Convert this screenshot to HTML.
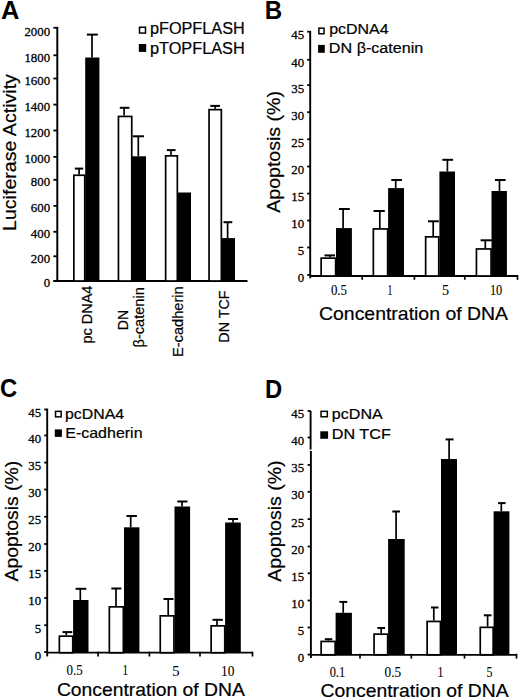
<!DOCTYPE html>
<html><head><meta charset="utf-8"><style>
html,body{margin:0;padding:0;background:#fff;}
body{width:520px;height:699px;overflow:hidden;}
svg{display:block;}
</style></head><body>
<svg width="520" height="699" viewBox="0 0 520 699">
<g stroke="#000" fill="#000" stroke-linecap="butt">
<text x="1.07" y="18.60" font-family='"Liberation Sans", sans-serif' font-weight="bold" font-size="25.00" textLength="18.41" lengthAdjust="spacingAndGlyphs" stroke="none">A</text>
<line x1="57.30" y1="26.90" x2="57.30" y2="282.00" stroke-width="2.00"/>
<line x1="53.40" y1="280.90" x2="57.30" y2="280.90" stroke-width="1.80"/>
<line x1="53.40" y1="256.30" x2="57.30" y2="256.30" stroke-width="1.80"/>
<line x1="53.40" y1="231.80" x2="57.30" y2="231.80" stroke-width="1.80"/>
<line x1="53.40" y1="205.90" x2="57.30" y2="205.90" stroke-width="1.80"/>
<line x1="53.40" y1="179.80" x2="57.30" y2="179.80" stroke-width="1.80"/>
<line x1="53.40" y1="156.90" x2="57.30" y2="156.90" stroke-width="1.80"/>
<line x1="53.40" y1="130.50" x2="57.30" y2="130.50" stroke-width="1.80"/>
<line x1="53.40" y1="104.60" x2="57.30" y2="104.60" stroke-width="1.80"/>
<line x1="53.40" y1="78.50" x2="57.30" y2="78.50" stroke-width="1.80"/>
<line x1="53.40" y1="55.30" x2="57.30" y2="55.30" stroke-width="1.80"/>
<line x1="53.40" y1="27.80" x2="57.30" y2="27.80" stroke-width="1.80"/>
<text x="43.68" y="287.40" font-family='"Liberation Serif", serif' font-weight="normal" font-size="13.50" textLength="6.41" lengthAdjust="spacingAndGlyphs" stroke="#000" stroke-width="0.30">0</text>
<text x="30.85" y="262.80" font-family='"Liberation Serif", serif' font-weight="normal" font-size="13.50" textLength="19.24" lengthAdjust="spacingAndGlyphs" stroke="#000" stroke-width="0.30">200</text>
<text x="30.85" y="238.30" font-family='"Liberation Serif", serif' font-weight="normal" font-size="13.50" textLength="19.24" lengthAdjust="spacingAndGlyphs" stroke="#000" stroke-width="0.30">400</text>
<text x="30.85" y="212.40" font-family='"Liberation Serif", serif' font-weight="normal" font-size="13.50" textLength="19.24" lengthAdjust="spacingAndGlyphs" stroke="#000" stroke-width="0.30">600</text>
<text x="30.85" y="186.30" font-family='"Liberation Serif", serif' font-weight="normal" font-size="13.50" textLength="19.24" lengthAdjust="spacingAndGlyphs" stroke="#000" stroke-width="0.30">800</text>
<text x="24.44" y="163.40" font-family='"Liberation Serif", serif' font-weight="normal" font-size="13.50" textLength="25.65" lengthAdjust="spacingAndGlyphs" stroke="#000" stroke-width="0.30">1000</text>
<text x="24.44" y="137.00" font-family='"Liberation Serif", serif' font-weight="normal" font-size="13.50" textLength="25.65" lengthAdjust="spacingAndGlyphs" stroke="#000" stroke-width="0.30">1200</text>
<text x="24.44" y="111.10" font-family='"Liberation Serif", serif' font-weight="normal" font-size="13.50" textLength="25.65" lengthAdjust="spacingAndGlyphs" stroke="#000" stroke-width="0.30">1400</text>
<text x="24.44" y="85.00" font-family='"Liberation Serif", serif' font-weight="normal" font-size="13.50" textLength="25.65" lengthAdjust="spacingAndGlyphs" stroke="#000" stroke-width="0.30">1600</text>
<text x="24.44" y="61.80" font-family='"Liberation Serif", serif' font-weight="normal" font-size="13.50" textLength="25.65" lengthAdjust="spacingAndGlyphs" stroke="#000" stroke-width="0.30">1800</text>
<text x="24.44" y="36.10" font-family='"Liberation Serif", serif' font-weight="normal" font-size="13.50" textLength="25.65" lengthAdjust="spacingAndGlyphs" stroke="#000" stroke-width="0.30">2000</text>
<line x1="53.40" y1="281.00" x2="247.50" y2="281.00" stroke-width="2.00"/>
<rect x="73.85" y="175.25" width="10.90" height="105.75" fill="#fff" stroke-width="1.70"/>
<rect x="85.20" y="57.50" width="14.20" height="223.50" fill="#000" stroke="none"/>
<line x1="79.10" y1="174.40" x2="79.10" y2="168.60" stroke-width="1.70"/>
<line x1="74.80" y1="168.60" x2="83.20" y2="168.60" stroke-width="2.00"/>
<line x1="92.00" y1="57.50" x2="92.00" y2="34.60" stroke-width="1.70"/>
<line x1="86.90" y1="34.60" x2="97.80" y2="34.60" stroke-width="2.00"/>
<rect x="118.45" y="116.45" width="13.30" height="164.55" fill="#fff" stroke-width="1.70"/>
<rect x="132.00" y="156.30" width="14.00" height="124.70" fill="#000" stroke="none"/>
<line x1="124.10" y1="115.60" x2="124.10" y2="107.80" stroke-width="1.70"/>
<line x1="119.80" y1="107.80" x2="129.40" y2="107.80" stroke-width="2.00"/>
<line x1="138.30" y1="156.30" x2="138.30" y2="136.30" stroke-width="1.70"/>
<line x1="132.80" y1="136.30" x2="144.00" y2="136.30" stroke-width="2.00"/>
<rect x="165.65" y="155.85" width="11.70" height="125.15" fill="#fff" stroke-width="1.70"/>
<rect x="177.60" y="192.50" width="13.40" height="88.50" fill="#000" stroke="none"/>
<line x1="171.00" y1="155.00" x2="171.00" y2="150.10" stroke-width="1.70"/>
<line x1="166.90" y1="150.10" x2="175.60" y2="150.10" stroke-width="2.00"/>
<rect x="209.05" y="109.65" width="12.30" height="171.35" fill="#fff" stroke-width="1.70"/>
<rect x="221.30" y="238.10" width="13.70" height="42.90" fill="#000" stroke="none"/>
<line x1="215.20" y1="108.80" x2="215.20" y2="105.90" stroke-width="1.70"/>
<line x1="210.30" y1="105.90" x2="220.00" y2="105.90" stroke-width="2.00"/>
<line x1="227.60" y1="238.10" x2="227.60" y2="222.20" stroke-width="1.70"/>
<line x1="223.50" y1="222.20" x2="232.30" y2="222.20" stroke-width="2.00"/>
<rect x="139.5" y="27.25" width="6" height="5.8" fill="#fff" stroke-width="1.5"/>
<rect x="138.80" y="44.00" width="7.40" height="7.90" fill="#000" stroke="none"/>
<text x="149.95" y="33.90" font-family='"Liberation Sans", sans-serif' font-weight="normal" font-size="16.00" textLength="94.77" lengthAdjust="spacingAndGlyphs" stroke="#000" stroke-width="0.20">pFOPFLASH</text>
<text x="149.95" y="53.90" font-family='"Liberation Sans", sans-serif' font-weight="normal" font-size="16.00" textLength="94.77" lengthAdjust="spacingAndGlyphs" stroke="#000" stroke-width="0.20">pTOPFLASH</text>
<text transform="translate(15.70 231.00) rotate(-90)" font-family='"Liberation Sans", sans-serif' font-weight="normal" font-size="18.90" textLength="156.94" lengthAdjust="spacingAndGlyphs" stroke="#000" stroke-width="0.20">Luciferase Activity</text>
<text transform="translate(92.00 343.53) rotate(-90)" font-family='"Liberation Sans", sans-serif' font-weight="normal" font-size="14.00" textLength="57.96" lengthAdjust="spacingAndGlyphs" stroke="#000" stroke-width="0.20">pc DNA4</text>
<text transform="translate(127.60 330.15) rotate(-90)" font-family='"Liberation Sans", sans-serif' font-weight="normal" font-size="14.00" textLength="20.30" lengthAdjust="spacingAndGlyphs" stroke="#000" stroke-width="0.20">DN</text>
<text transform="translate(144.40 347.51) rotate(-90)" font-family='"Liberation Sans", sans-serif' font-weight="normal" font-size="14.00" textLength="60.26" lengthAdjust="spacingAndGlyphs" stroke="#000" stroke-width="0.20">β-catenin</text>
<text transform="translate(183.20 357.00) rotate(-90)" font-family='"Liberation Sans", sans-serif' font-weight="normal" font-size="14.00" textLength="70.65" lengthAdjust="spacingAndGlyphs" stroke="#000" stroke-width="0.20">E-cadherin</text>
<text transform="translate(228.80 342.67) rotate(-90)" font-family='"Liberation Sans", sans-serif' font-weight="normal" font-size="14.00" textLength="52.24" lengthAdjust="spacingAndGlyphs" stroke="#000" stroke-width="0.20">DN TCF</text>
<text x="264.69" y="18.70" font-family='"Liberation Sans", sans-serif' font-weight="bold" font-size="25.60" textLength="17.41" lengthAdjust="spacingAndGlyphs" stroke="none">B</text>
<line x1="310.20" y1="31.00" x2="310.20" y2="278.30" stroke-width="1.90"/>
<line x1="307.20" y1="274.90" x2="310.20" y2="274.90" stroke-width="1.80"/>
<line x1="307.20" y1="247.50" x2="310.20" y2="247.50" stroke-width="1.80"/>
<line x1="307.20" y1="220.50" x2="310.20" y2="220.50" stroke-width="1.80"/>
<line x1="307.20" y1="193.60" x2="310.20" y2="193.60" stroke-width="1.80"/>
<line x1="307.20" y1="166.50" x2="310.20" y2="166.50" stroke-width="1.80"/>
<line x1="307.20" y1="139.30" x2="310.20" y2="139.30" stroke-width="1.80"/>
<line x1="307.20" y1="112.20" x2="310.20" y2="112.20" stroke-width="1.80"/>
<line x1="307.20" y1="85.10" x2="310.20" y2="85.10" stroke-width="1.80"/>
<line x1="307.20" y1="59.80" x2="310.20" y2="59.80" stroke-width="1.80"/>
<line x1="307.20" y1="31.70" x2="310.20" y2="31.70" stroke-width="1.80"/>
<text x="297.68" y="282.30" font-family='"Liberation Serif", serif' font-weight="normal" font-size="13.50" textLength="6.41" lengthAdjust="spacingAndGlyphs" stroke="#000" stroke-width="0.30">0</text>
<text x="297.69" y="254.90" font-family='"Liberation Serif", serif' font-weight="normal" font-size="13.50" textLength="6.41" lengthAdjust="spacingAndGlyphs" stroke="#000" stroke-width="0.30">5</text>
<text x="291.26" y="227.90" font-family='"Liberation Serif", serif' font-weight="normal" font-size="13.50" textLength="12.82" lengthAdjust="spacingAndGlyphs" stroke="#000" stroke-width="0.30">10</text>
<text x="291.28" y="201.00" font-family='"Liberation Serif", serif' font-weight="normal" font-size="13.50" textLength="12.82" lengthAdjust="spacingAndGlyphs" stroke="#000" stroke-width="0.30">15</text>
<text x="291.26" y="173.90" font-family='"Liberation Serif", serif' font-weight="normal" font-size="13.50" textLength="12.82" lengthAdjust="spacingAndGlyphs" stroke="#000" stroke-width="0.30">20</text>
<text x="291.28" y="146.70" font-family='"Liberation Serif", serif' font-weight="normal" font-size="13.50" textLength="12.82" lengthAdjust="spacingAndGlyphs" stroke="#000" stroke-width="0.30">25</text>
<text x="291.26" y="119.60" font-family='"Liberation Serif", serif' font-weight="normal" font-size="13.50" textLength="12.83" lengthAdjust="spacingAndGlyphs" stroke="#000" stroke-width="0.30">30</text>
<text x="291.28" y="92.50" font-family='"Liberation Serif", serif' font-weight="normal" font-size="13.50" textLength="12.82" lengthAdjust="spacingAndGlyphs" stroke="#000" stroke-width="0.30">35</text>
<text x="291.26" y="67.20" font-family='"Liberation Serif", serif' font-weight="normal" font-size="13.50" textLength="12.82" lengthAdjust="spacingAndGlyphs" stroke="#000" stroke-width="0.30">40</text>
<text x="291.28" y="39.10" font-family='"Liberation Serif", serif' font-weight="normal" font-size="13.50" textLength="12.82" lengthAdjust="spacingAndGlyphs" stroke="#000" stroke-width="0.30">45</text>
<line x1="310.20" y1="276.00" x2="517.50" y2="276.00" stroke-width="1.80"/>
<line x1="362.20" y1="275.00" x2="362.20" y2="279.80" stroke-width="1.70"/>
<line x1="414.40" y1="275.00" x2="414.40" y2="279.80" stroke-width="1.70"/>
<line x1="464.80" y1="275.00" x2="464.80" y2="279.80" stroke-width="1.70"/>
<line x1="517.50" y1="275.00" x2="517.50" y2="279.80" stroke-width="1.70"/>
<rect x="321.15" y="258.15" width="14.50" height="17.85" fill="#fff" stroke-width="1.70"/>
<rect x="336.00" y="228.10" width="15.90" height="47.90" fill="#000" stroke="none"/>
<line x1="330.00" y1="257.30" x2="330.00" y2="255.40" stroke-width="1.70"/>
<line x1="324.40" y1="255.40" x2="335.00" y2="255.40" stroke-width="2.00"/>
<line x1="343.10" y1="228.10" x2="343.10" y2="209.00" stroke-width="1.70"/>
<line x1="339.00" y1="209.00" x2="349.80" y2="209.00" stroke-width="2.00"/>
<rect x="373.35" y="228.95" width="14.30" height="47.05" fill="#fff" stroke-width="1.70"/>
<rect x="388.10" y="188.10" width="15.90" height="87.90" fill="#000" stroke="none"/>
<line x1="379.80" y1="228.10" x2="379.80" y2="211.00" stroke-width="1.70"/>
<line x1="373.50" y1="211.00" x2="384.80" y2="211.00" stroke-width="2.00"/>
<line x1="395.70" y1="188.10" x2="395.70" y2="180.00" stroke-width="1.70"/>
<line x1="391.30" y1="180.00" x2="401.90" y2="180.00" stroke-width="2.00"/>
<rect x="425.65" y="236.85" width="13.10" height="39.15" fill="#fff" stroke-width="1.70"/>
<rect x="439.40" y="171.50" width="15.60" height="104.50" fill="#000" stroke="none"/>
<line x1="433.20" y1="236.00" x2="433.20" y2="221.30" stroke-width="1.70"/>
<line x1="428.00" y1="221.30" x2="438.80" y2="221.30" stroke-width="2.00"/>
<line x1="447.40" y1="171.50" x2="447.40" y2="159.80" stroke-width="1.70"/>
<line x1="442.30" y1="159.80" x2="453.10" y2="159.80" stroke-width="2.00"/>
<rect x="476.45" y="248.95" width="14.60" height="27.05" fill="#fff" stroke-width="1.70"/>
<rect x="491.50" y="191.00" width="15.40" height="85.00" fill="#000" stroke="none"/>
<line x1="485.30" y1="248.10" x2="485.30" y2="240.30" stroke-width="1.70"/>
<line x1="480.60" y1="240.30" x2="491.90" y2="240.30" stroke-width="2.00"/>
<line x1="499.50" y1="191.00" x2="499.50" y2="180.00" stroke-width="1.70"/>
<line x1="495.00" y1="180.00" x2="505.60" y2="180.00" stroke-width="2.00"/>
<rect x="318.85" y="28.15" width="5.20" height="5.60" fill="#fff" stroke-width="1.5"/>
<rect x="318.10" y="44.90" width="6.70" height="7.90" fill="#000" stroke="none"/>
<text x="329.17" y="33.60" font-family='"Liberation Sans", sans-serif' font-weight="normal" font-size="14.00" textLength="59.40" lengthAdjust="spacingAndGlyphs" stroke="#000" stroke-width="0.20">pcDNA4</text>
<text x="328.88" y="52.90" font-family='"Liberation Sans", sans-serif' font-weight="normal" font-size="14.00" textLength="94.37" lengthAdjust="spacingAndGlyphs" stroke="#000" stroke-width="0.20">DN β-catenin</text>
<text transform="translate(280.10 212.74) rotate(-90)" font-family='"Liberation Sans", sans-serif' font-weight="normal" font-size="18.60" textLength="121.65" lengthAdjust="spacingAndGlyphs" stroke="#000" stroke-width="0.20">Apoptosis (%)</text>
<text x="330.91" y="294.80" font-family='"Liberation Serif", serif' font-weight="normal" font-size="14.00" textLength="16.09" lengthAdjust="spacingAndGlyphs" stroke="#000" stroke-width="0.10">0.5</text>
<text x="387.43" y="294.80" font-family='"Liberation Serif", serif' font-weight="normal" font-size="14.00" textLength="4.97" lengthAdjust="spacingAndGlyphs" stroke="#000" stroke-width="0.10">1</text>
<text x="442.08" y="294.80" font-family='"Liberation Serif", serif' font-weight="normal" font-size="14.00" textLength="7.07" lengthAdjust="spacingAndGlyphs" stroke="#000" stroke-width="0.10">5</text>
<text x="489.91" y="294.80" font-family='"Liberation Serif", serif' font-weight="normal" font-size="14.00" textLength="12.36" lengthAdjust="spacingAndGlyphs" stroke="#000" stroke-width="0.10">10</text>
<text x="319.01" y="319.60" font-family='"Liberation Sans", sans-serif' font-weight="normal" font-size="17.90" textLength="189.02" lengthAdjust="spacingAndGlyphs" stroke="#000" stroke-width="0.20">Concentration of DNA</text>
<text x="0.02" y="397.20" font-family='"Liberation Sans", sans-serif' font-weight="bold" font-size="25.80" textLength="17.23" lengthAdjust="spacingAndGlyphs" stroke="none">C</text>
<line x1="47.20" y1="408.60" x2="47.20" y2="656.40" stroke-width="1.90"/>
<line x1="44.20" y1="652.10" x2="47.20" y2="652.10" stroke-width="1.80"/>
<line x1="44.20" y1="625.20" x2="47.20" y2="625.20" stroke-width="1.80"/>
<line x1="44.20" y1="598.00" x2="47.20" y2="598.00" stroke-width="1.80"/>
<line x1="44.20" y1="570.90" x2="47.20" y2="570.90" stroke-width="1.80"/>
<line x1="44.20" y1="544.00" x2="47.20" y2="544.00" stroke-width="1.80"/>
<line x1="44.20" y1="516.80" x2="47.20" y2="516.80" stroke-width="1.80"/>
<line x1="44.20" y1="489.50" x2="47.20" y2="489.50" stroke-width="1.80"/>
<line x1="44.20" y1="462.60" x2="47.20" y2="462.60" stroke-width="1.80"/>
<line x1="44.20" y1="435.50" x2="47.20" y2="435.50" stroke-width="1.80"/>
<line x1="44.20" y1="409.50" x2="47.20" y2="409.50" stroke-width="1.80"/>
<text x="34.68" y="659.50" font-family='"Liberation Serif", serif' font-weight="normal" font-size="13.50" textLength="6.41" lengthAdjust="spacingAndGlyphs" stroke="#000" stroke-width="0.30">0</text>
<text x="34.69" y="632.60" font-family='"Liberation Serif", serif' font-weight="normal" font-size="13.50" textLength="6.41" lengthAdjust="spacingAndGlyphs" stroke="#000" stroke-width="0.30">5</text>
<text x="28.26" y="605.40" font-family='"Liberation Serif", serif' font-weight="normal" font-size="13.50" textLength="12.82" lengthAdjust="spacingAndGlyphs" stroke="#000" stroke-width="0.30">10</text>
<text x="28.28" y="578.30" font-family='"Liberation Serif", serif' font-weight="normal" font-size="13.50" textLength="12.82" lengthAdjust="spacingAndGlyphs" stroke="#000" stroke-width="0.30">15</text>
<text x="28.26" y="551.40" font-family='"Liberation Serif", serif' font-weight="normal" font-size="13.50" textLength="12.82" lengthAdjust="spacingAndGlyphs" stroke="#000" stroke-width="0.30">20</text>
<text x="28.28" y="524.20" font-family='"Liberation Serif", serif' font-weight="normal" font-size="13.50" textLength="12.82" lengthAdjust="spacingAndGlyphs" stroke="#000" stroke-width="0.30">25</text>
<text x="28.26" y="496.90" font-family='"Liberation Serif", serif' font-weight="normal" font-size="13.50" textLength="12.82" lengthAdjust="spacingAndGlyphs" stroke="#000" stroke-width="0.30">30</text>
<text x="28.28" y="470.00" font-family='"Liberation Serif", serif' font-weight="normal" font-size="13.50" textLength="12.82" lengthAdjust="spacingAndGlyphs" stroke="#000" stroke-width="0.30">35</text>
<text x="28.26" y="442.90" font-family='"Liberation Serif", serif' font-weight="normal" font-size="13.50" textLength="12.82" lengthAdjust="spacingAndGlyphs" stroke="#000" stroke-width="0.30">40</text>
<text x="28.28" y="416.90" font-family='"Liberation Serif", serif' font-weight="normal" font-size="13.50" textLength="12.82" lengthAdjust="spacingAndGlyphs" stroke="#000" stroke-width="0.30">45</text>
<line x1="47.20" y1="652.70" x2="252.50" y2="652.70" stroke-width="1.80"/>
<line x1="98.10" y1="651.70" x2="98.10" y2="656.50" stroke-width="1.70"/>
<line x1="149.40" y1="651.70" x2="149.40" y2="656.50" stroke-width="1.70"/>
<line x1="200.00" y1="651.70" x2="200.00" y2="656.50" stroke-width="1.70"/>
<line x1="252.50" y1="651.70" x2="252.50" y2="656.50" stroke-width="1.70"/>
<rect x="59.35" y="636.15" width="13.40" height="16.55" fill="#fff" stroke-width="1.70"/>
<rect x="73.10" y="600.00" width="15.40" height="52.70" fill="#000" stroke="none"/>
<line x1="66.30" y1="635.30" x2="66.30" y2="632.10" stroke-width="1.70"/>
<line x1="62.50" y1="632.10" x2="72.30" y2="632.10" stroke-width="2.00"/>
<line x1="80.30" y1="600.00" x2="80.30" y2="588.80" stroke-width="1.70"/>
<line x1="75.60" y1="588.80" x2="86.30" y2="588.80" stroke-width="2.00"/>
<rect x="109.35" y="606.85" width="14.00" height="45.85" fill="#fff" stroke-width="1.70"/>
<rect x="124.00" y="527.30" width="15.40" height="125.40" fill="#000" stroke="none"/>
<line x1="116.00" y1="606.00" x2="116.00" y2="588.50" stroke-width="1.70"/>
<line x1="111.30" y1="588.50" x2="121.30" y2="588.50" stroke-width="2.00"/>
<line x1="130.70" y1="527.30" x2="130.70" y2="516.00" stroke-width="1.70"/>
<line x1="126.50" y1="516.00" x2="136.90" y2="516.00" stroke-width="2.00"/>
<rect x="160.25" y="615.85" width="13.70" height="36.85" fill="#fff" stroke-width="1.70"/>
<rect x="174.50" y="506.50" width="15.60" height="146.20" fill="#000" stroke="none"/>
<line x1="168.20" y1="615.00" x2="168.20" y2="599.00" stroke-width="1.70"/>
<line x1="163.50" y1="599.00" x2="173.50" y2="599.00" stroke-width="2.00"/>
<line x1="182.00" y1="506.50" x2="182.00" y2="501.50" stroke-width="1.70"/>
<line x1="177.30" y1="501.50" x2="187.50" y2="501.50" stroke-width="2.00"/>
<rect x="211.15" y="625.85" width="13.60" height="26.85" fill="#fff" stroke-width="1.70"/>
<rect x="225.10" y="522.50" width="15.70" height="130.20" fill="#000" stroke="none"/>
<line x1="217.00" y1="625.00" x2="217.00" y2="619.80" stroke-width="1.70"/>
<line x1="212.50" y1="619.80" x2="222.80" y2="619.80" stroke-width="2.00"/>
<line x1="233.00" y1="522.50" x2="233.00" y2="519.00" stroke-width="1.70"/>
<line x1="228.10" y1="519.00" x2="238.10" y2="519.00" stroke-width="2.00"/>
<rect x="55.55" y="411.35" width="5.60" height="5.50" fill="#fff" stroke-width="1.5"/>
<rect x="54.80" y="429.40" width="7.10" height="7.50" fill="#000" stroke="none"/>
<text x="64.98" y="419.00" font-family='"Liberation Sans", sans-serif' font-weight="normal" font-size="14.00" textLength="59.09" lengthAdjust="spacingAndGlyphs" stroke="#000" stroke-width="0.20">pcDNA4</text>
<text x="65.29" y="437.80" font-family='"Liberation Sans", sans-serif' font-weight="normal" font-size="14.20" textLength="77.25" lengthAdjust="spacingAndGlyphs" stroke="#000" stroke-width="0.20">E-cadherin</text>
<text transform="translate(18.30 581.54) rotate(-90)" font-family='"Liberation Sans", sans-serif' font-weight="normal" font-size="18.60" textLength="120.74" lengthAdjust="spacingAndGlyphs" stroke="#000" stroke-width="0.20">Apoptosis (%)</text>
<text x="66.41" y="674.60" font-family='"Liberation Serif", serif' font-weight="normal" font-size="14.00" textLength="16.20" lengthAdjust="spacingAndGlyphs" stroke="#000" stroke-width="0.10">0.5</text>
<text x="122.53" y="674.60" font-family='"Liberation Serif", serif' font-weight="normal" font-size="14.00" textLength="5.54" lengthAdjust="spacingAndGlyphs" stroke="#000" stroke-width="0.10">1</text>
<text x="172.25" y="675.60" font-family='"Liberation Serif", serif' font-weight="normal" font-size="14.00" textLength="7.32" lengthAdjust="spacingAndGlyphs" stroke="#000" stroke-width="0.10">5</text>
<text x="221.12" y="675.80" font-family='"Liberation Serif", serif' font-weight="normal" font-size="14.00" textLength="13.39" lengthAdjust="spacingAndGlyphs" stroke="#000" stroke-width="0.10">10</text>
<text x="56.92" y="696.30" font-family='"Liberation Sans", sans-serif' font-weight="normal" font-size="17.90" textLength="187.92" lengthAdjust="spacingAndGlyphs" stroke="#000" stroke-width="0.20">Concentration of DNA</text>
<text x="264.91" y="397.60" font-family='"Liberation Sans", sans-serif' font-weight="bold" font-size="25.20" textLength="17.19" lengthAdjust="spacingAndGlyphs" stroke="none">D</text>
<line x1="310.60" y1="410.80" x2="310.60" y2="449.50" stroke-width="1.90"/>
<line x1="310.90" y1="450.90" x2="310.90" y2="658.00" stroke-width="1.90"/>
<line x1="307.60" y1="654.60" x2="310.60" y2="654.60" stroke-width="1.80"/>
<line x1="307.60" y1="627.50" x2="310.60" y2="627.50" stroke-width="1.80"/>
<line x1="307.60" y1="600.50" x2="310.60" y2="600.50" stroke-width="1.80"/>
<line x1="307.60" y1="573.30" x2="310.60" y2="573.30" stroke-width="1.80"/>
<line x1="307.60" y1="546.50" x2="310.60" y2="546.50" stroke-width="1.80"/>
<line x1="307.60" y1="519.10" x2="310.60" y2="519.10" stroke-width="1.80"/>
<line x1="307.60" y1="491.80" x2="310.60" y2="491.80" stroke-width="1.80"/>
<line x1="307.60" y1="464.90" x2="310.60" y2="464.90" stroke-width="1.80"/>
<line x1="307.60" y1="437.50" x2="310.60" y2="437.50" stroke-width="1.80"/>
<line x1="307.60" y1="411.00" x2="310.60" y2="411.00" stroke-width="1.80"/>
<text x="297.68" y="662.00" font-family='"Liberation Serif", serif' font-weight="normal" font-size="13.50" textLength="6.41" lengthAdjust="spacingAndGlyphs" stroke="#000" stroke-width="0.30">0</text>
<text x="297.69" y="634.90" font-family='"Liberation Serif", serif' font-weight="normal" font-size="13.50" textLength="6.41" lengthAdjust="spacingAndGlyphs" stroke="#000" stroke-width="0.30">5</text>
<text x="291.26" y="607.90" font-family='"Liberation Serif", serif' font-weight="normal" font-size="13.50" textLength="12.82" lengthAdjust="spacingAndGlyphs" stroke="#000" stroke-width="0.30">10</text>
<text x="291.28" y="580.70" font-family='"Liberation Serif", serif' font-weight="normal" font-size="13.50" textLength="12.82" lengthAdjust="spacingAndGlyphs" stroke="#000" stroke-width="0.30">15</text>
<text x="291.26" y="553.90" font-family='"Liberation Serif", serif' font-weight="normal" font-size="13.50" textLength="12.82" lengthAdjust="spacingAndGlyphs" stroke="#000" stroke-width="0.30">20</text>
<text x="291.28" y="526.50" font-family='"Liberation Serif", serif' font-weight="normal" font-size="13.50" textLength="12.82" lengthAdjust="spacingAndGlyphs" stroke="#000" stroke-width="0.30">25</text>
<text x="291.26" y="499.20" font-family='"Liberation Serif", serif' font-weight="normal" font-size="13.50" textLength="12.83" lengthAdjust="spacingAndGlyphs" stroke="#000" stroke-width="0.30">30</text>
<text x="291.28" y="472.30" font-family='"Liberation Serif", serif' font-weight="normal" font-size="13.50" textLength="12.82" lengthAdjust="spacingAndGlyphs" stroke="#000" stroke-width="0.30">35</text>
<text x="291.26" y="444.90" font-family='"Liberation Serif", serif' font-weight="normal" font-size="13.50" textLength="12.82" lengthAdjust="spacingAndGlyphs" stroke="#000" stroke-width="0.30">40</text>
<text x="291.28" y="418.40" font-family='"Liberation Serif", serif' font-weight="normal" font-size="13.50" textLength="12.82" lengthAdjust="spacingAndGlyphs" stroke="#000" stroke-width="0.30">45</text>
<line x1="310.60" y1="654.80" x2="516.50" y2="654.80" stroke-width="1.80"/>
<line x1="360.00" y1="653.80" x2="360.00" y2="658.60" stroke-width="1.70"/>
<line x1="411.30" y1="653.80" x2="411.30" y2="658.60" stroke-width="1.70"/>
<line x1="464.50" y1="653.80" x2="464.50" y2="658.60" stroke-width="1.70"/>
<line x1="516.50" y1="653.80" x2="516.50" y2="658.60" stroke-width="1.70"/>
<rect x="321.15" y="641.45" width="14.00" height="13.35" fill="#fff" stroke-width="1.70"/>
<rect x="335.60" y="612.80" width="16.30" height="42.00" fill="#000" stroke="none"/>
<line x1="328.50" y1="640.60" x2="328.50" y2="639.20" stroke-width="1.70"/>
<line x1="324.80" y1="639.20" x2="332.30" y2="639.20" stroke-width="2.00"/>
<line x1="343.20" y1="612.80" x2="343.20" y2="601.90" stroke-width="1.70"/>
<line x1="339.40" y1="601.90" x2="347.30" y2="601.90" stroke-width="2.00"/>
<rect x="374.05" y="634.15" width="13.60" height="20.65" fill="#fff" stroke-width="1.70"/>
<rect x="388.10" y="539.00" width="16.60" height="115.80" fill="#000" stroke="none"/>
<line x1="381.20" y1="633.30" x2="381.20" y2="628.00" stroke-width="1.70"/>
<line x1="377.40" y1="628.00" x2="385.00" y2="628.00" stroke-width="2.00"/>
<line x1="396.10" y1="539.00" x2="396.10" y2="511.50" stroke-width="1.70"/>
<line x1="392.30" y1="511.50" x2="400.00" y2="511.50" stroke-width="2.00"/>
<rect x="427.15" y="621.45" width="13.30" height="33.35" fill="#fff" stroke-width="1.70"/>
<rect x="441.00" y="459.00" width="16.00" height="195.80" fill="#000" stroke="none"/>
<line x1="433.80" y1="620.60" x2="433.80" y2="607.50" stroke-width="1.70"/>
<line x1="431.00" y1="607.50" x2="438.50" y2="607.50" stroke-width="2.00"/>
<line x1="449.10" y1="459.00" x2="449.10" y2="439.40" stroke-width="1.70"/>
<line x1="445.60" y1="439.40" x2="453.50" y2="439.40" stroke-width="2.00"/>
<rect x="480.25" y="627.35" width="12.90" height="27.45" fill="#fff" stroke-width="1.70"/>
<rect x="493.60" y="511.30" width="15.80" height="143.50" fill="#000" stroke="none"/>
<line x1="487.60" y1="626.50" x2="487.60" y2="615.30" stroke-width="1.70"/>
<line x1="483.80" y1="615.30" x2="491.50" y2="615.30" stroke-width="2.00"/>
<line x1="501.30" y1="511.30" x2="501.30" y2="503.10" stroke-width="1.70"/>
<line x1="498.10" y1="503.10" x2="505.60" y2="503.10" stroke-width="2.00"/>
<rect x="321.05" y="411.35" width="6.30" height="5.40" fill="#fff" stroke-width="1.5"/>
<rect x="320.30" y="431.30" width="7.80" height="7.50" fill="#000" stroke="none"/>
<text x="331.86" y="419.10" font-family='"Liberation Sans", sans-serif' font-weight="normal" font-size="14.00" textLength="50.87" lengthAdjust="spacingAndGlyphs" stroke="#000" stroke-width="0.20">pcDNA</text>
<text x="331.78" y="439.40" font-family='"Liberation Sans", sans-serif' font-weight="normal" font-size="14.50" textLength="59.07" lengthAdjust="spacingAndGlyphs" stroke="#000" stroke-width="0.20">DN TCF</text>
<text transform="translate(280.80 581.84) rotate(-90)" font-family='"Liberation Sans", sans-serif' font-weight="normal" font-size="19.00" textLength="121.35" lengthAdjust="spacingAndGlyphs" stroke="#000" stroke-width="0.20">Apoptosis (%)</text>
<text x="329.63" y="676.50" font-family='"Liberation Serif", serif' font-weight="normal" font-size="14.00" textLength="15.52" lengthAdjust="spacingAndGlyphs" stroke="#000" stroke-width="0.10">0.1</text>
<text x="384.60" y="676.50" font-family='"Liberation Serif", serif' font-weight="normal" font-size="14.00" textLength="16.52" lengthAdjust="spacingAndGlyphs" stroke="#000" stroke-width="0.10">0.5</text>
<text x="437.45" y="676.50" font-family='"Liberation Serif", serif' font-weight="normal" font-size="14.00" textLength="5.97" lengthAdjust="spacingAndGlyphs" stroke="#000" stroke-width="0.10">1</text>
<text x="486.61" y="676.70" font-family='"Liberation Serif", serif' font-weight="normal" font-size="14.00" textLength="5.96" lengthAdjust="spacingAndGlyphs" stroke="#000" stroke-width="0.10">5</text>
<text x="320.62" y="696.50" font-family='"Liberation Sans", sans-serif' font-weight="normal" font-size="17.90" textLength="188.02" lengthAdjust="spacingAndGlyphs" stroke="#000" stroke-width="0.20">Concentration of DNA</text>
</g>
</svg>
</body></html>
